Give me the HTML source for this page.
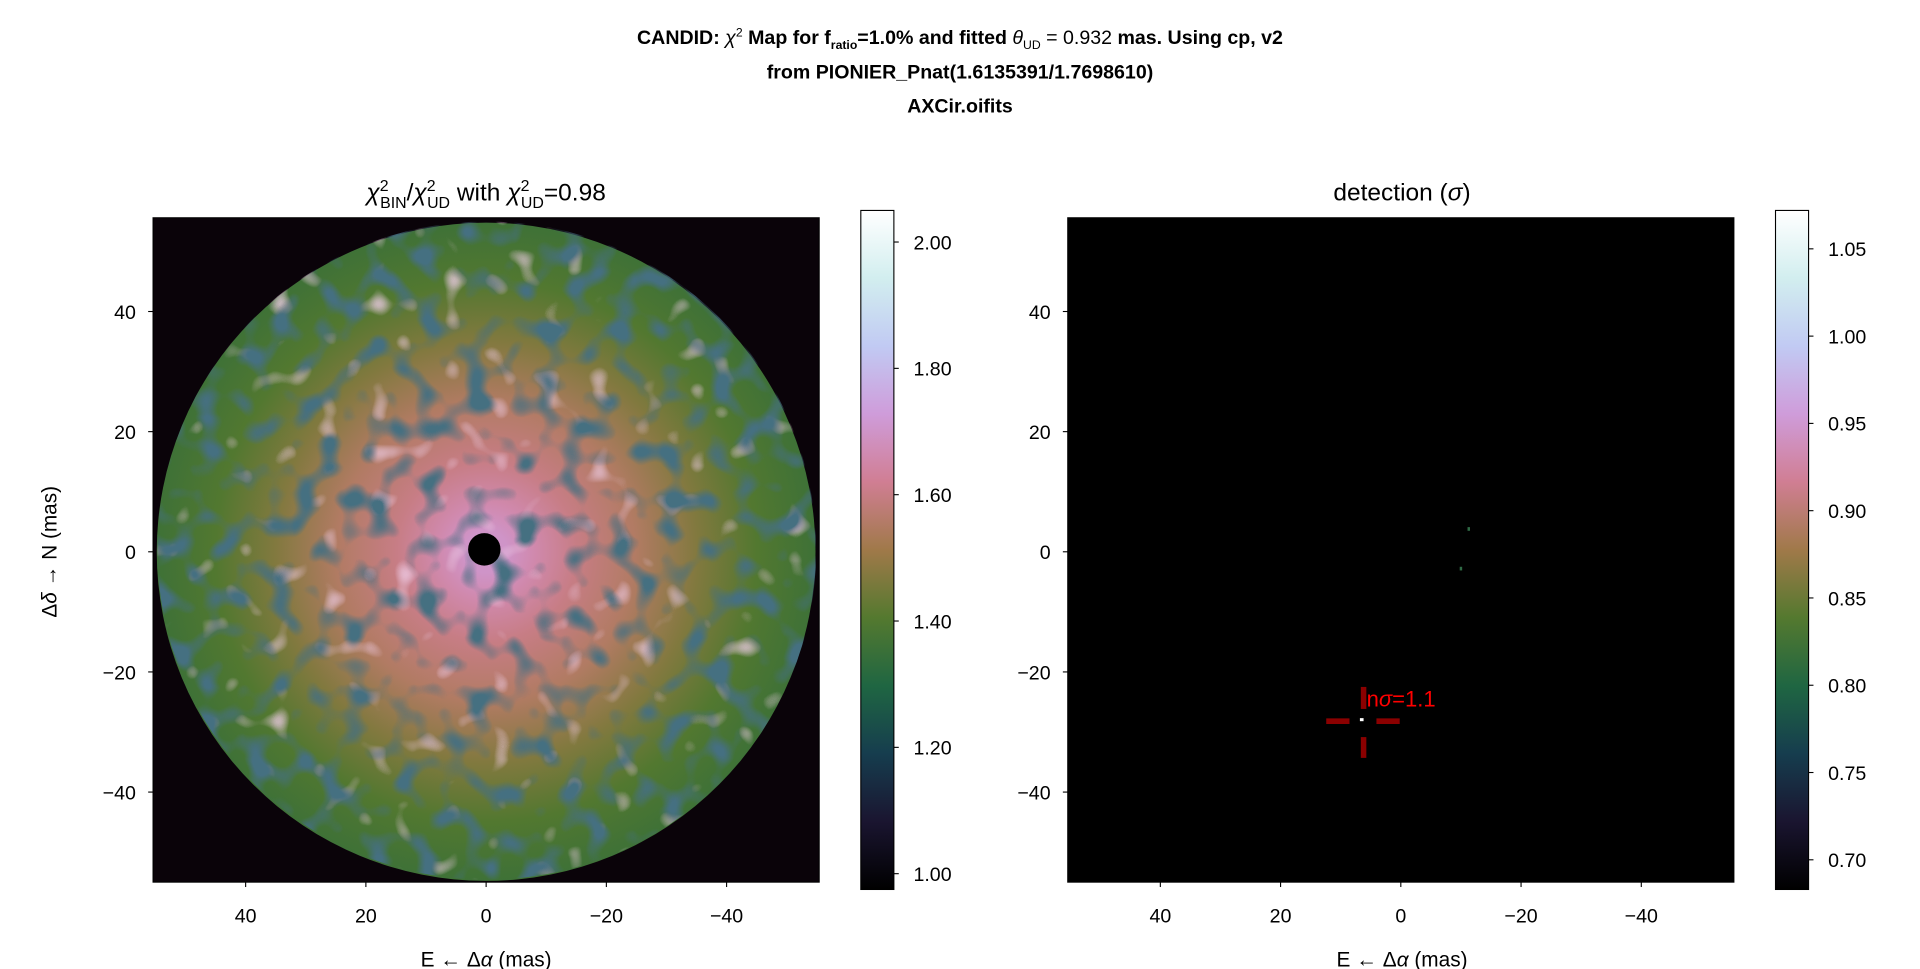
<!DOCTYPE html>
<html><head><meta charset="utf-8"><style>
html,body{margin:0;padding:0;background:#fff;width:1920px;height:969px;overflow:hidden}
svg{display:block;font-family:"Liberation Sans","DejaVu Sans",sans-serif}
</style></head><body>
<svg id="fig" width="1920" height="969" viewBox="0 0 1568 792" preserveAspectRatio="none" xmlns="http://www.w3.org/2000/svg">
<defs>
<filter id="tex" x="0" y="0" width="100%" height="100%">
<feTurbulence type="fractalNoise" baseFrequency="0.05" numOctaves="1" seed="7" result="n"/>
<feColorMatrix in="n" type="matrix" values="0 0 0 0 0.06  0 0 0 0 0.16  0 0 0 0 0.22  5 0 0 0 -2.5" result="dark"/>
<feColorMatrix in="n" type="matrix" values="0 0 0 0 0.85  0 0 0 0 0.6  0 0 0 0 0.78  0 -4 0 0 1.5" result="pink"/>
<feMerge><feMergeNode in="pink"/><feMergeNode in="dark"/></feMerge>
</filter>
<clipPath id="circ"><circle cx="397.5" cy="450" r="269"/></clipPath>
</defs>

<g font-weight="bold" font-size="16" text-anchor="middle" fill="#000">
<text x="784" y="36">CANDID: <tspan font-style="italic" font-weight="normal">χ</tspan><tspan font-size="10" font-weight="normal" dy="-6">2</tspan><tspan dy="6"> Map for f</tspan><tspan font-size="10" dy="4">ratio</tspan><tspan dy="-4">=1.0% and fitted </tspan><tspan font-style="italic" font-weight="normal">θ</tspan><tspan font-size="10" font-weight="normal" dy="4">UD</tspan><tspan font-weight="normal" dy="-4"> = 0.932</tspan> mas. Using cp, v2</text>
<text x="784" y="64">from PIONIER_Pnat(1.6135391/1.7698610)</text>
<text x="784" y="92">AXCir.oifits</text>
</g>

<g id="left"></g>
<g id="right"></g>
<g id="cb"></g>

<text x="397" y="164" font-size="20" text-anchor="middle"><tspan font-style="italic">χ</tspan><tspan font-size="13" dy="-8">2</tspan><tspan font-size="13" dx="-7" dy="14">BIN</tspan><tspan dy="-6">/</tspan><tspan font-style="italic">χ</tspan><tspan font-size="13" dy="-8">2</tspan><tspan font-size="13" dx="-7" dy="14">UD</tspan><tspan dy="-6"> with </tspan><tspan font-style="italic">χ</tspan><tspan font-size="13" dy="-8">2</tspan><tspan font-size="13" dx="-7" dy="14">UD</tspan><tspan dy="-6">=0.98</tspan></text>
<text x="1145" y="164" font-size="20" text-anchor="middle">detection (<tspan font-style="italic">σ</tspan>)</text>
<text transform="translate(46,451) rotate(-90)" font-size="17" text-anchor="middle">Δ<tspan font-style="italic">δ</tspan> → N (mas)</text>
<text x="397" y="790" font-size="17" text-anchor="middle">E ← Δ<tspan font-style="italic">α</tspan> (mas)</text>
<text x="1145" y="790" font-size="17" text-anchor="middle">E ← Δ<tspan font-style="italic">α</tspan> (mas)</text>
</svg>
<script>
// ---- data ----
const axisTicks = [40, 20, 0, -20, -40];
const axisRange = [-55.4, 55.4];
const ringRadii = [0, 3.5, 8, 15, 25, 35, 45, 55];      // mas
const ringValues = [1.7, 1.7, 1.66, 1.6, 1.55, 1.47, 1.4, 1.36];
const holeX = [0.3], holeY = [0.4], holeR = [2.7];
const leftCbTicks = [1.0, 1.2, 1.4, 1.6, 1.8, 2.0];
const leftCbRange = [0.975, 2.05];
const rightCbTicks = [0.70, 0.75, 0.80, 0.85, 0.90, 0.95, 1.00, 1.05];
const rightCbRange = [0.683, 1.072];
const detX = [6.5], detY = [-28.2], detSigma = [1.1];
const faintX = [-11.3, -10.0], faintY = [3.8, -2.8];

const NS = "http://www.w3.org/2000/svg";
const cmapStops = ["#000000","#1a1530","#163d4e","#1f6642","#54792f","#a07949","#d07e93","#cf9cda","#c1caf3","#d2eeef","#ffffff"];
function hex(c){return [1,3,5].map(i=>parseInt(c.substr(i,2),16));}
function cmap(t){t=Math.max(0,Math.min(1,t));const f=t*10,i=Math.min(9,Math.floor(f)),u=f-i;const a=hex(cmapStops[i]),b=hex(cmapStops[i+1]);return "rgb("+a.map((v,k)=>Math.round(v+(b[k]-v)*u)).join(",")+")";}
function mk(tag,attrs,parent){const e=document.createElementNS(NS,tag);for(const k in attrs)e.setAttribute(k,attrs[k]);parent.appendChild(e);return e;}

const AY0=178, AH=543;
const CY=451;
const pxPerMas = 544/(axisRange[1]-axisRange[0]);
function sy(v){return CY - v*pxPerMas;}
function sxF(x0){return v=>x0+272 - v*pxPerMas;}

function drawAxes(g,x0,name){
  const sx=sxF(x0);
  const fr=mk("rect",{x:x0,y:AY0,width:544,height:AH,fill:"none",stroke:"#000","stroke-width":0.9},g);
  
  
  axisTicks.forEach(t=>{
    mk("line",{x1:sx(t),x2:sx(t),y1:AY0+AH,y2:AY0+AH+4,stroke:"#000","stroke-width":0.9},g);
    const tx=mk("text",{x:sx(t),y:AY0+AH+33,"font-size":"16","text-anchor":"middle"},g);
    tx.textContent=(t<0?"−"+(-t):t);
    
    
    mk("line",{x1:x0-4,x2:x0,y1:sy(t),y2:sy(t),stroke:"#000","stroke-width":0.9},g);
    const ty=mk("text",{x:x0-14,y:sy(t)+6,"font-size":"16","text-anchor":"end"},g);
    ty.textContent=(t<0?"−"+(-t):t);
    
    
  });
}

// Left panel
const L=document.getElementById("left");
const lsx=sxF(125);
const bg=mk("rect",{x:125,y:AY0,width:544,height:AH,fill:"#0a0309"},L);


const defs=document.querySelector("defs");
const rg=mk("radialGradient",{id:"rg",cx:lsx(0),cy:sy(0),r:ringRadii[ringRadii.length-1]*pxPerMas,gradientUnits:"userSpaceOnUse"},defs);
ringRadii.forEach((r,i)=>{
  const tv=(ringValues[i]-leftCbRange[0])/(leftCbRange[1]-leftCbRange[0]);
  mk("stop",{offset:r/ringRadii[ringRadii.length-1],"stop-color":cmap(tv)},rg);
});
const disk=mk("circle",{cx:lsx(0),cy:sy(0),r:269,fill:"url(#rg)"},L);


const texg=mk("g",{"clip-path":"url(#circ)"},L);
const tex=mk("rect",{x:125,y:AY0,width:544,height:AH,filter:"url(#tex)"},texg);


holeX.forEach((x,i)=>{
  const h=mk("circle",{cx:lsx(x),cy:sy(holeY[i]),r:holeR[i]*pxPerMas,fill:"#000"},L);
  
  
});
drawAxes(L,125,"left");

// Right panel
const R=document.getElementById("right");
const rsx=sxF(872);
const rbg=mk("rect",{x:872,y:AY0,width:544,height:AH,fill:"#000"},R);


faintX.forEach((x,i)=>{
  const p=mk("rect",{x:rsx(x)-1,y:sy(faintY[i])-1.5,width:2,height:3,fill:"#2f6a45"},R);
  
  
});
detX.forEach((x,i)=>{
  const cx=rsx(x), cy=sy(detY[i]);
  const segs=[[cx-29,cy,cx-10,cy],[cx+12,cy,cx+31,cy],[cx+1.5,cy-28,cx+1.5,cy-10],[cx+1.5,cy+13,cx+1.5,cy+30]];
  segs.forEach(s=>{
    const l=mk("line",{x1:s[0],y1:s[1],x2:s[2],y2:s[3],stroke:"#8b0000","stroke-width":4.5},R);
    
    
  });
  const d=mk("rect",{x:cx-1.5,y:cy-2.5,width:3,height:2.5,fill:"#fff"},R);
  
  
  const t=mk("text",{x:cx+4,y:cy-12,"font-size":"18",fill:"#ff0000"},R);
  t.innerHTML='n<tspan font-style="italic">σ</tspan>='+detSigma[i];
  
  
});
drawAxes(R,872,"right");

// Colorbars
const CB=document.getElementById("cb");
function colorbar(x0,range,ticks,name){
  const y0=172,h=555,w=27;
  const gid="g"+name;
  const lg=mk("linearGradient",{id:gid,x1:0,y1:1,x2:0,y2:0},defs);
  for(let i=0;i<=10;i++) mk("stop",{offset:i/10,"stop-color":cmapStops[i]},lg);
  const r=mk("rect",{x:x0,y:y0,width:w,height:h,fill:"url(#"+gid+")",stroke:"#000","stroke-width":0.9},CB);
  
  
  ticks.forEach(t=>{
    const y=y0+h*(range[1]-t)/(range[1]-range[0]);
    mk("line",{x1:x0+w,x2:x0+w+4,y1:y,y2:y,stroke:"#000","stroke-width":0.9},CB);
    const tx=mk("text",{x:x0+w+16,y:y+6,"font-size":"16"},CB);
    tx.textContent=t.toFixed(2);
    
    
  });
}
colorbar(703,leftCbRange,leftCbTicks,"left");
colorbar(1450,rightCbRange,rightCbTicks,"right");
</script>
</body></html>
